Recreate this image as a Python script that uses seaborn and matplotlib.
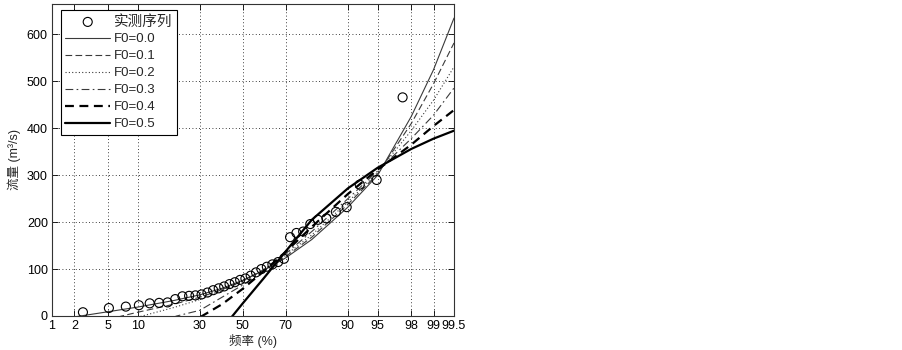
import numpy as np
import pandas as pd
import matplotlib
matplotlib.use("Agg")
import matplotlib.pyplot as plt
import seaborn as sns
from statistics import NormalDist

# ---------------- data ----------------
# observed series: plotting position (%) and flow (m3/s)
obs_n = 38
obs_freq = [100.0 * i / (obs_n + 1) for i in range(1, obs_n + 1)]
obs_flow = [8, 17, 20, 23, 27, 28, 29, 36, 42, 43,
            44, 46, 50, 55, 59, 63, 68, 72, 77, 80,
            86, 93, 100, 105, 110, 115, 122, 168, 177, 180,
            196, 205, 208, 222, 232, 280, 290, 466]

# fitted curves for different F0 (frequency %, flow)
f00_freq = [1, 2, 5, 10, 20, 30, 40, 50, 60, 70, 80, 90, 95, 98, 99, 99.5]
f00_flow = [-12, -2, 9, 19, 33, 45, 59, 76, 97, 124, 163, 232, 300, 425, 525, 635]

f01_freq = [5, 7, 10, 20, 30, 40, 50, 60, 70, 80, 90, 95, 98, 99, 99.5]
f01_flow = [-8, 0, 8, 25, 40, 56, 75, 98, 127, 168, 238, 303, 410, 495, 582]

f02_freq = [8, 11, 20, 30, 40, 50, 60, 70, 80, 90, 95, 98, 99, 99.5]
f02_flow = [-8, 0, 18, 35, 53, 74, 99, 130, 173, 243, 306, 395, 460, 531]

f03_freq = [15, 21, 30, 40, 50, 60, 70, 80, 90, 95, 98, 99, 99.5]
f03_flow = [-15, 0, 12, 40, 66, 97, 133, 180, 250, 309, 378, 428, 486]

f04_freq = [25, 31, 40, 50, 60, 70, 80, 90, 95, 98, 99, 99.5]
f04_flow = [-15, 0, 25, 58, 95, 137, 190, 260, 312, 365, 405, 439]

f05_freq = [40, 45, 50, 60, 70, 80, 90, 95, 98, 99, 99.5]
f05_flow = [-25, 0, 27, 80, 138, 205, 272, 316, 356, 378, 395]

x_ticks = [1, 2, 5, 10, 30, 50, 70, 90, 95, 98, 99, 99.5]
x_tick_labels = ["1", "2", "5", "10", "30", "50", "70", "90", "95", "98", "99", "99.5"]
y_ticks = [0, 100, 200, 300, 400, 500, 600]

# ---------------- style ----------------
sns.set_style("ticks")
plt.rcParams["font.family"] = ["Liberation Sans", "Noto Sans CJK SC", "DejaVu Sans"]
plt.rcParams["font.size"] = 9
plt.rcParams["axes.unicode_minus"] = False

nd = NormalDist()


def fwd(p):
    p = np.clip(np.asarray(p, dtype=float), 1e-4, 100 - 1e-4)
    return np.vectorize(lambda v: nd.inv_cdf(v / 100.0), otypes=[float])(p)


def inv(z):
    z = np.asarray(z, dtype=float)
    return np.vectorize(lambda v: nd.cdf(v) * 100.0, otypes=[float])(z)


fig = plt.figure(figsize=(9.03, 3.5), dpi=100)
ax = fig.add_axes([52 / 903, 34 / 350, 402 / 903, 312 / 350])
ax.set_xscale("function", functions=(fwd, inv))

curves = [
    (f00_freq, f00_flow, "F0=0.0", dict(color="#3a3a3a", lw=0.8, ls="-")),
    (f01_freq, f01_flow, "F0=0.1", dict(color="#3a3a3a", lw=0.8, ls=(0, (6, 3)))),
    (f02_freq, f02_flow, "F0=0.2", dict(color="#3a3a3a", lw=0.8, ls=(0, (1, 2)))),
    (f03_freq, f03_flow, "F0=0.3", dict(color="#3a3a3a", lw=0.8, ls=(0, (7, 3, 1.5, 3)))),
    (f04_freq, f04_flow, "F0=0.4", dict(color="black", lw=1.6, ls=(0, (4, 2.5)))),
    (f05_freq, f05_flow, "F0=0.5", dict(color="black", lw=1.6, ls="-")),
]

obs_df = pd.DataFrame({"freq": obs_freq, "flow": obs_flow})
sns.scatterplot(data=obs_df, x="freq", y="flow", ax=ax, marker="o", s=42,
                facecolors="none", edgecolors="black", linewidths=0.8,
                label="实测序列", zorder=3)

for fr, fl, lab, kw in curves:
    df = pd.DataFrame({"freq": fr, "flow": fl})
    sns.lineplot(data=df, x="freq", y="flow", ax=ax, label=lab,
                 sort=False, estimator=None, **kw)

ax.set_xlim(1, 99.5)
ax.set_ylim(0, 665)
ax.set_xticks(x_ticks)
ax.set_xticklabels(x_tick_labels)
ax.set_yticks(y_ticks)
ax.minorticks_off()
ax.grid(True, ls=(0, (1, 3)), color="black", lw=0.6)
ax.tick_params(direction="in", top=True, right=True, length=4, width=0.6,
               labelsize=9, colors="black", pad=3)
for s in ax.spines.values():
    s.set_linewidth(0.8)
    s.set_color("#333333")
    s.set_visible(True)

ax.set_xlabel("频率 (%)", fontsize=9, labelpad=1)
ax.set_ylabel("流量 (m³/s)", fontsize=9, labelpad=4)

leg = ax.legend(loc="upper left", bbox_to_anchor=(0.015, 0.99), frameon=True,
                fancybox=False, edgecolor="black", framealpha=1,
                fontsize=9.5, handlelength=3.4, labelspacing=0.36,
                borderpad=0.35, handletextpad=0.3, borderaxespad=0.2)
leg.get_frame().set_linewidth(0.8)
leg.get_texts()[0].set_fontsize(10.5)

fig.savefig("out.png", dpi=100, facecolor="white")
